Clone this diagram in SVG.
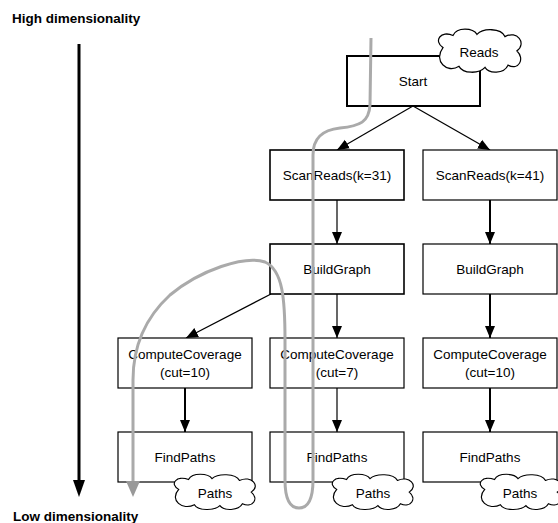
<svg xmlns="http://www.w3.org/2000/svg" width="558" height="523" viewBox="0 0 558 523">
<style>
.box{fill:#fff;stroke:#000;stroke-width:1.2}
.lbl{font-family:"Liberation Sans",Arial,Helvetica,sans-serif;font-size:13.5px;fill:#000;text-anchor:middle}
.axis{font-family:"Liberation Sans",Arial,Helvetica,sans-serif;font-size:13.5px;font-weight:bold;fill:#000}
.edge{fill:none;stroke:#000;stroke-width:1.2}
.thick{stroke-width:2}
.cloud{fill:#fff;stroke:#000;stroke-width:1.2}
</style>
<defs>
<marker id="ah" markerUnits="userSpaceOnUse" markerWidth="12" markerHeight="12" viewBox="0 0 12 12" refX="12" refY="6" orient="auto">
<path d="M0,1 L12,6 L0,11 Z" fill="#000"/>
</marker>
<path id="cloudShape" d="M -36,-4 C -46,-10 -38,-20 -26,-15 C -22,-23 -6,-22 -2,-16 C 4,-22 22,-22 26,-14 C 38,-20 48,-8 38,-1 C 46,6 40,17 29,12 C 25,20 10,20 6,14 C 0,20 -16,20 -20,13 C -32,20 -46,8 -36,-4 Z"/>
</defs>
<g id="axis">
<text class="axis" x="12" y="23">High dimensionality</text>
<line x1="79" y1="44" x2="79" y2="482" stroke="#000" stroke-width="3"/>
<path d="M73,480 L85,480 L79,497 Z" fill="#000"/>
<text class="axis" x="13" y="521">Low dimensionality</text>
</g>
<g id="edges">
<line class="edge" x1="413" y1="106" x2="337" y2="150" marker-end="url(#ah)"/>
<line class="edge" x1="413" y1="106" x2="490" y2="150" marker-end="url(#ah)"/>
<line class="edge" x1="337" y1="200" x2="337" y2="244" marker-end="url(#ah)"/>
<line class="edge thick" x1="490" y1="200" x2="490" y2="244" marker-end="url(#ah)"/>
<line class="edge" x1="337" y1="294" x2="337" y2="338" marker-end="url(#ah)"/>
<line class="edge" x1="271" y1="294" x2="186" y2="338" marker-end="url(#ah)"/>
<line class="edge thick" x1="490" y1="294" x2="490" y2="338" marker-end="url(#ah)"/>
<line class="edge thick" x1="185" y1="388" x2="185" y2="432" marker-end="url(#ah)"/>
<line class="edge" x1="337" y1="388" x2="337" y2="432" marker-end="url(#ah)"/>
<line class="edge thick" x1="490" y1="388" x2="490" y2="432" marker-end="url(#ah)"/>
</g>
<g id="start">
<rect class="box" x="347" y="56" width="133" height="50" style="stroke-width:2"/>
<text class="lbl" x="413" y="86">Start</text>
</g>
<g id="reads">
<use href="#cloudShape" class="cloud" transform="translate(479,52) scale(1,1.1)"/>
<text class="lbl" x="479" y="57">Reads</text>
</g>
<g id="scan31">
<rect class="box" x="270" y="150" width="134" height="50" style="stroke-width:1.6"/>
<text class="lbl" x="337" y="180">ScanReads(k=31)</text>
</g>
<g id="scan41">
<rect class="box" x="423" y="150" width="134" height="50"/>
<text class="lbl" x="490" y="180">ScanReads(k=41)</text>
</g>
<g id="build31">
<rect class="box" x="270" y="244" width="134" height="50" style="stroke-width:1.6"/>
<text class="lbl" x="337" y="274">BuildGraph</text>
</g>
<g id="build41">
<rect class="box" x="423" y="244" width="134" height="50"/>
<text class="lbl" x="490" y="274">BuildGraph</text>
</g>
<g id="cc10a">
<rect class="box" x="118" y="338" width="134" height="50"/>
<text class="lbl" x="185" y="359">ComputeCoverage</text>
<text class="lbl" x="185" y="377">(cut=10)</text>
</g>
<g id="cc7">
<rect class="box" x="270" y="338" width="134" height="50"/>
<text class="lbl" x="337" y="359">ComputeCoverage</text>
<text class="lbl" x="337" y="377">(cut=7)</text>
</g>
<g id="cc10b">
<rect class="box" x="423" y="338" width="134" height="50"/>
<text class="lbl" x="490" y="359">ComputeCoverage</text>
<text class="lbl" x="490" y="377">(cut=10)</text>
</g>
<g id="fp1">
<rect class="box" x="118" y="432" width="134" height="50"/>
<text class="lbl" x="185" y="462">FindPaths</text>
</g>
<g id="fp2">
<rect class="box" x="270" y="432" width="134" height="50"/>
<text class="lbl" x="337" y="462">FindPaths</text>
</g>
<g id="fp3">
<rect class="box" x="423" y="432" width="134" height="50"/>
<text class="lbl" x="490" y="462">FindPaths</text>
</g>
<g id="paths1">
<use href="#cloudShape" class="cloud" transform="translate(214,493) scale(0.98,0.9)"/>
<text class="lbl" x="215" y="498">Paths</text>
</g>
<g id="paths2">
<use href="#cloudShape" class="cloud" transform="translate(372,493) scale(0.98,0.9)"/>
<text class="lbl" x="373" y="498">Paths</text>
</g>
<g id="paths3">
<use href="#cloudShape" class="cloud" transform="translate(520,493) scale(0.98,0.9)"/>
<text class="lbl" x="520" y="498">Paths</text>
</g>
<g id="trajectory">
<path d="M 371,38 L 370,105 C 369,122 360,126 340,128 C 322,130 313,138 313,155 L 313,480 C 313,500 308,508 299,508 C 290,508 285,500 285,480 L 285,340 C 285,300 283,270 265,262 C 245,255 200,270 170,295 C 145,318 133,345 133,380 L 133,482" fill="none" stroke="#aaa" stroke-width="3"/>
<path d="M126,481 L140,481 L133,497 Z" fill="#999"/>
</g>
</svg>
